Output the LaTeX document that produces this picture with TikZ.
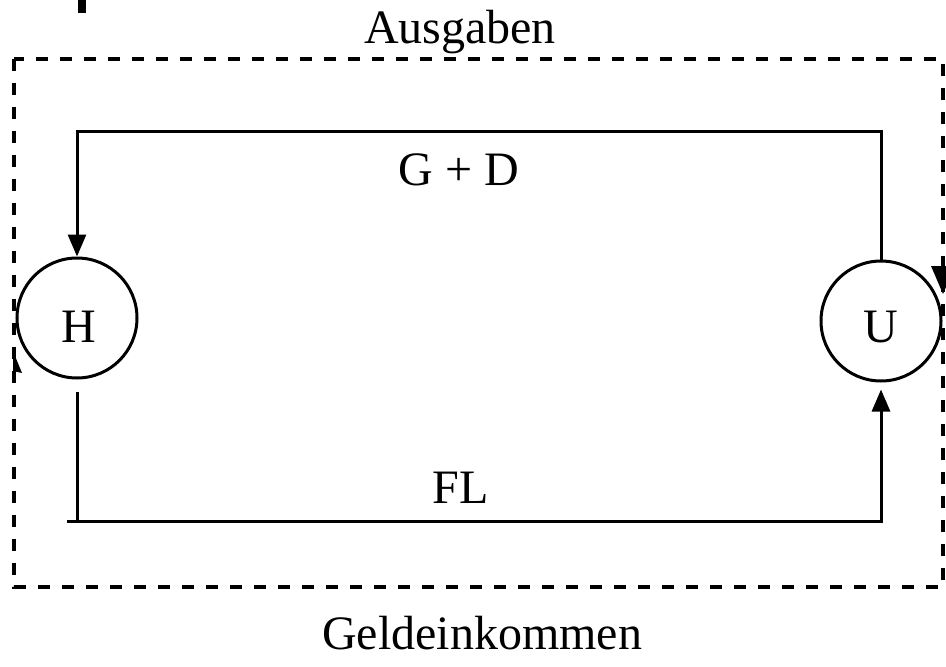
\documentclass[tikz,border=0pt]{standalone}
\usepackage{fontspec}
\setmainfont{Liberation Serif}
\usetikzlibrary{arrows.meta}
\begin{document}
\begin{tikzpicture}[x=1pt,y=-1pt,
 flow/.style={line width=3pt,-{Triangle[length=22pt,width=18pt]}},
 plain/.style={line width=3pt},
 circ/.style={draw,circle,line width=3pt,minimum size=120pt,inner sep=0pt},
 lbl/.style={font=\fontsize{48}{56}\selectfont,inner sep=0pt,anchor=base},
 frame/.style={line width=4pt,dash pattern=on 12pt off 12pt}]
\useasboundingbox (0,0) rectangle (946,667);
\fill (78,0) rectangle (86,13);
\draw[frame] (14,59) rectangle (943,587);
\fill (931,266) -- (955,266) -- (943,294) -- cycle;
\fill (13,351) -- (22,373) -- (13,371) -- cycle;
\node[circ] (H) at (77,318) {};
\node[circ] (U) at (881,321) {};
\node[lbl] (Ht) at (79,342) {H};
\node[lbl] (Ut) at (881,342) {U};
\coordinate (tl) at (77,131);
\coordinate (tr) at (881,131);
\draw[flow] (U.north) -- (tr) -- (tl) -- (H.north);
\coordinate (bl) at (77,521);
\coordinate (bl0) at (67,521);
\coordinate (br) at (881,521);
\draw[plain,shorten <=12pt] (H.south) -- (bl);
\draw[flow,shorten >=7pt] (bl0) -- (br) -- (U.south);
\node[lbl] (aus) at (460,43) {Ausgaben};
\node[lbl] (gd) at (459,185) {G + D};
\node[lbl] (fl) at (461,503) {FL};
\node[lbl] (geld) at (482,649) {Geldeinkommen};
\end{tikzpicture}
\end{document}
